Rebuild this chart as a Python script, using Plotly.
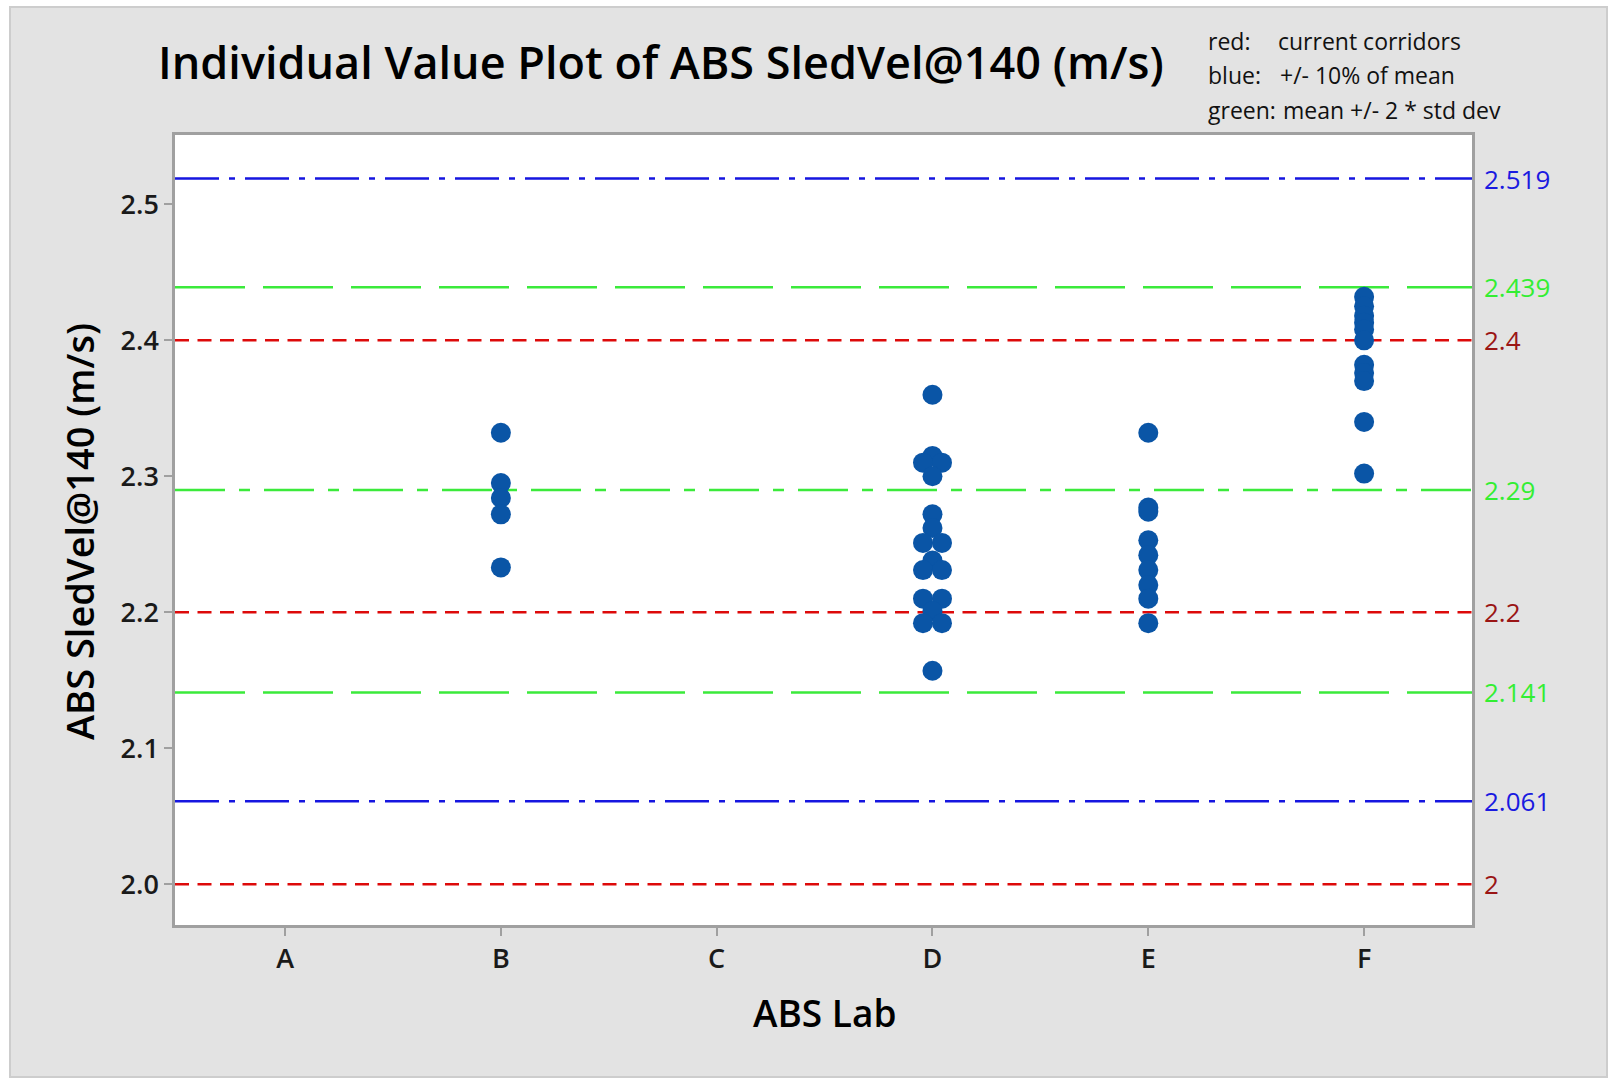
import plotly.graph_objects as go

# ---------------- data ----------------
categories = ["A", "B", "C", "D", "E", "F"]
lab_A = []
lab_B = [2.332, 2.295, 2.284, 2.272, 2.233]
lab_C = []
lab_D = [2.360, 2.315, 2.310, 2.310, 2.300, 2.272, 2.262, 2.251, 2.251, 2.238,
         2.231, 2.231, 2.210, 2.210, 2.201, 2.192, 2.192, 2.157]
lab_E = [2.332, 2.277, 2.274, 2.253, 2.242, 2.231, 2.220, 2.210, 2.192]
lab_F = [2.432, 2.425, 2.418, 2.413, 2.408, 2.400, 2.382, 2.376, 2.370, 2.340, 2.302]
lab_values = [lab_A, lab_B, lab_C, lab_D, lab_E, lab_F]

y_tick_vals = [2.0, 2.1, 2.2, 2.3, 2.4, 2.5]
y_tick_text = ["2.0", "2.1", "2.2", "2.3", "2.4", "2.5"]

red_refs = [2.4, 2.2, 2.0]
red_ref_labels = ["2.4", "2.2", "2"]
blue_refs = [2.519, 2.061]
blue_ref_labels = ["2.519", "2.061"]
green_sd_refs = [2.439, 2.141]
green_sd_labels = ["2.439", "2.141"]
green_mean_refs = [2.29]
green_mean_labels = ["2.29"]

title_text = "Individual Value Plot of ABS SledVel@140 (m/s)"
x_title = "ABS Lab"
y_title = "ABS SledVel@140 (m/s)"
legend_keys = ["red:", "blue:", "green:"]
legend_texts = ["current corridors", "+/- 10% of mean", "mean +/- 2 * std dev"]

# ---------------- layout geometry ----------------
W, H = 1610, 1079
L, R, T, B = 175, 1472, 135, 925
PW, PH = R - L, B - T
FONT = "Open Sans, Noto Sans, sans-serif"


def px_x(p):
    return (p - L) / PW


def px_y(p):
    return (B - p) / PH


# spread tied values horizontally (Minitab style)
TIE_STEP = 0.088
xs, ys = [], []
for i, vals in enumerate(lab_values):
    groups = {}
    for v in vals:
        groups.setdefault(v, 0)
        groups[v] += 1
    for v, n in groups.items():
        for k in range(n):
            xs.append(i + (k - (n - 1) / 2) * TIE_STEP)
            ys.append(v)

fig = go.Figure()
fig.add_trace(go.Scatter(
    x=xs, y=ys, mode="markers",
    marker=dict(size=20, color="#0A55A6", line=dict(width=0)),
    showlegend=False, hoverinfo="y",
))

shapes = []
# gray panel background
shapes.append(dict(type="rect", xref="paper", yref="paper",
                   x0=px_x(10), x1=px_x(1607), y0=px_y(1077), y1=px_y(7),
                   fillcolor="#E3E3E3", line=dict(color="#CDCDCD", width=2),
                   layer="below"))
# white plotting area
shapes.append(dict(type="rect", xref="paper", yref="paper",
                   x0=0, x1=1, y0=0, y1=1,
                   fillcolor="#FFFFFF", line=dict(width=0),
                   layer="below"))

RED, BLUE, GREEN = "#DD0A0A", "#1616E0", "#3BEA3B"
RED_TXT, BLUE_TXT, GREEN_TXT = "#9A1515", "#1A1AE0", "#33EE33"

line_specs = []
for v, lab in zip(blue_refs, blue_ref_labels):
    line_specs.append((v, lab, BLUE, "44px,10px,6px,10px", BLUE_TXT))
for v, lab in zip(green_sd_refs, green_sd_labels):
    line_specs.append((v, lab, GREEN, "70px,18px", GREEN_TXT))
for v, lab in zip(green_mean_refs, green_mean_labels):
    line_specs.append((v, lab, GREEN, "50px,14px,11px,14px", GREEN_TXT))
for v, lab in zip(red_refs, red_ref_labels):
    line_specs.append((v, lab, RED, "14px,8.5px", RED_TXT))

annotations = []
for v, lab, col, dash, tcol in line_specs:
    shapes.append(dict(type="line", xref="paper", yref="y", x0=0, x1=1,
                       y0=v, y1=v, line=dict(color=col, width=2.5, dash=dash),
                       layer="below"))
    annotations.append(dict(xref="paper", yref="y", x=px_x(1482), y=v,
                            text=lab, showarrow=False, xanchor="left",
                            yanchor="middle",
                            font=dict(family=FONT, size=26, color=tcol)))

# title
annotations.append(dict(xref="paper", yref="paper", x=px_x(661), y=px_y(62),
                        text=title_text, showarrow=False, xanchor="center",
                        yanchor="middle",
                        font=dict(family=FONT, size=45, color="#000000", weight=600)))
# legend-like notes
for k, (key, txt) in enumerate(zip(legend_keys, legend_texts)):
    yy = [41, 75, 110][k]
    annotations.append(dict(xref="paper", yref="paper", x=px_x(1206), y=px_y(yy),
                            text=key, showarrow=False, xanchor="left",
                            yanchor="middle",
                            font=dict(family=FONT, size=23, color="#111111")))
    annotations.append(dict(xref="paper", yref="paper", x=px_x([1276, 1278, 1281][k]),
                            y=px_y(yy),
                            text=txt, showarrow=False, xanchor="left",
                            yanchor="middle",
                            font=dict(family=FONT, size=23, color="#111111")))
# axis titles
annotations.append(dict(xref="paper", yref="paper", x=px_x(79), y=px_y(532),
                        text=y_title, showarrow=False, textangle=-90,
                        xanchor="center", yanchor="middle",
                        font=dict(family=FONT, size=38, color="#000000", weight=600)))
annotations.append(dict(xref="paper", yref="paper", x=px_x(824), y=px_y(1013),
                        text=x_title, showarrow=False,
                        xanchor="center", yanchor="middle",
                        font=dict(family=FONT, size=37, color="#000000", weight=600)))

axis_common = dict(showline=True, linecolor="#A0A0A0", linewidth=2.5, mirror=True,
                   ticks="outside", ticklen=8, tickcolor="#A0A0A0", tickwidth=2,
                   showgrid=False, zeroline=False,
                   tickfont=dict(family=FONT, size=27, color="#1A1A1A", weight=600))

fig.update_layout(
    width=W, height=H, autosize=False,
    margin=dict(l=L, r=W - R, t=T, b=H - B, pad=0),
    paper_bgcolor="#FFFFFF", plot_bgcolor="#FFFFFF",
    showlegend=False,
    shapes=shapes, annotations=annotations,
    xaxis=dict(range=[-0.51, 5.5], tickmode="array",
               tickvals=list(range(len(categories))), ticktext=categories,
               **axis_common),
    yaxis=dict(range=[1.970, 2.551], tickmode="array",
               tickvals=y_tick_vals, ticktext=y_tick_text, **axis_common),
)

fig.write_html("out.html", config={"displayModeBar": False},
               post_script="document.body.style.margin='0';")
